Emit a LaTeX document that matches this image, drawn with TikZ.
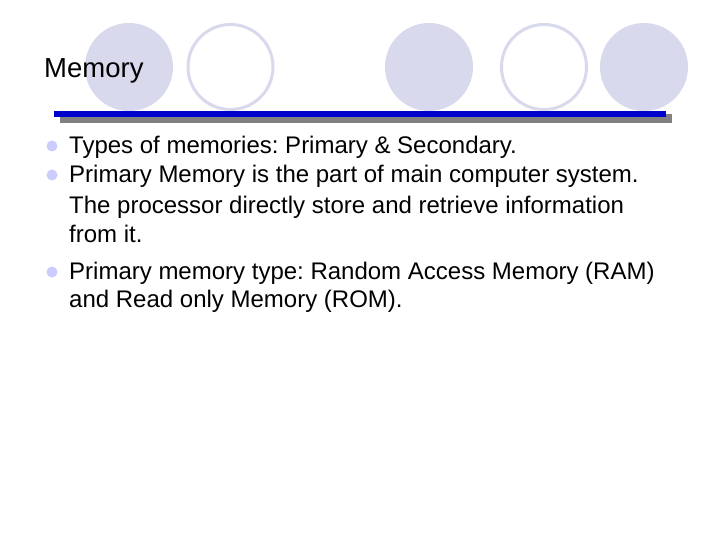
\documentclass[tikz,border=0pt]{standalone}
\usepackage{fontspec}
\setmainfont{Liberation Sans}
\definecolor{lav}{RGB}{217,217,238}
\definecolor{bul}{RGB}{204,204,255}
\definecolor{barblue}{RGB}{0,0,204}
\definecolor{shadowgray}{RGB}{128,128,128}
\frenchspacing
\begin{document}
\frenchspacing
\begin{tikzpicture}[x=1pt,y=-1pt,
  deco/.style={fill=lav},
  decoring/.style={draw=lav,line width=3pt},
  bulletdot/.style={circle,fill=bul,inner sep=0pt,minimum size=11pt},
  bodytext/.style={anchor=base west,inner sep=0pt,font=\fontsize{24}{28.8}\selectfont},
  titletext/.style={anchor=base west,inner sep=0pt,font=\fontsize{27.5}{33}\selectfont}]
\useasboundingbox (0,0) rectangle (720,540);
\fill[white] (0,0) rectangle (720,540);
% decorative circles
\fill[deco] (129,67) circle (44);
\draw[decoring] (230.5,67) circle (42.5);
\fill[deco] (429,67) circle (44);
\draw[decoring] (544,67) circle (42.5);
\fill[deco] (644,67) circle (44);
% title bar
\fill[shadowgray] (60,114) rectangle (672,123);
\fill[barblue] (54,111) rectangle (666,117);
% title
\node[titletext] (title) at (44,78) {Memory};
% bullets
\node[bulletdot] (b1) at (52,146) {};
\node[bulletdot] (b2) at (52,175) {};
\node[bulletdot] (b3) at (52,272) {};
\node[bodytext] (l1) at (69,154) {Types of memories: Primary \& Secondary.};
\node[bodytext] (l2) at (69,183) {Primary Memory is the part of main computer system.};
\node[bodytext] (l3) at (69,214) {The processor directly store and retrieve information};
\node[bodytext] (l4) at (69,242) {from it.};
\node[bodytext] (l5) at (69,279) {Primary memory type: Random Access Memory (RAM)};
\node[bodytext] (l6) at (69,307) {and Read only Memory (ROM).};
\end{tikzpicture}
\end{document}
